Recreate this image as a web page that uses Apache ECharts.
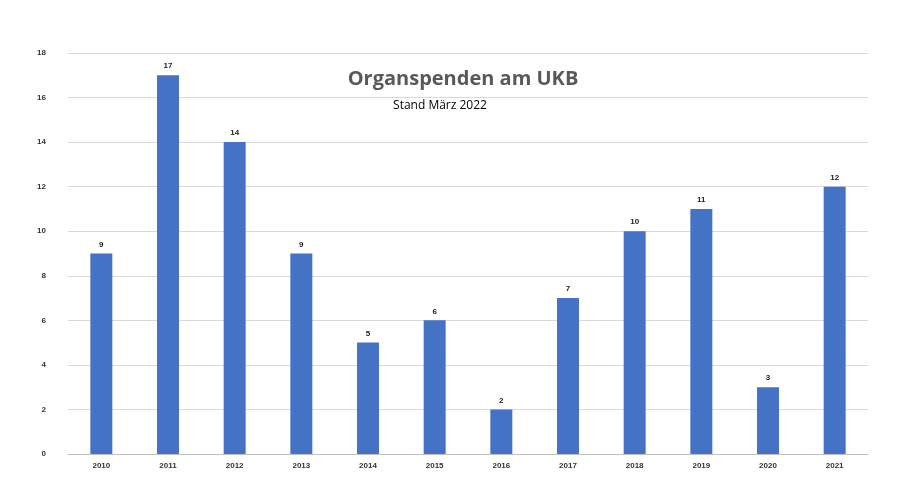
<!DOCTYPE html>
<html>
<head>
<meta charset="utf-8">
<script src="https://cdn.jsdelivr.net/npm/echarts@6/dist/echarts.min.js"></script>
<style>html,body{margin:0;background:#fff}#main{width:900px;height:502px}</style>
</head>
<body>
<div id="main"></div>
<script>
var years = ['2010','2011','2012','2013','2014','2015','2016','2017','2018','2019','2020','2021']
var spenden = [9, 17, 14, 9, 5, 6, 2, 7, 10, 11, 3, 12]

var myChart = echarts.init(document.getElementById('main'))
var option = {
    animation: false,
    title: [{
        text: 'Organspenden am UKB',
        left: 458, top: 64, textAlign: 'center',
        textStyle: {fontFamily: 'Open Sans', fontSize: 20, fontWeight: 'bold', color: '#595959'}
    }, {
        text: 'Stand März 2022',
        left: 435, top: 95, textAlign: 'center',
        textStyle: {fontFamily: 'Open Sans', fontSize: 12, fontWeight: 'normal', color: '#000'}
    }],
    grid: {left: 68, right: 32, top: 53, bottom: 48},
    xAxis: {
        type: 'category',
        data: years,
        axisTick: {show: false},
        axisLine: {lineStyle: {color: '#bfbfbf'}},
        axisLabel: {fontSize: 8, fontWeight: 'bold', color: '#333', margin: 8}
    },
    yAxis: {
        type: 'value', min: 0, max: 18, interval: 2,
        axisLabel: {fontSize: 8, fontWeight: 'bold', color: '#333', margin: 22},
        splitLine: {lineStyle: {color: '#d9d9d9'}}
    },
    series: [{
        type: 'bar',
        data: spenden,
        barWidth: 22,
        itemStyle: {color: '#4472c4'},
        label: {show: true, position: 'top', fontSize: 8, fontWeight: 'bold', color: '#222'}
    }]
}
myChart.setOption(option)
</script>
</body>
</html>
